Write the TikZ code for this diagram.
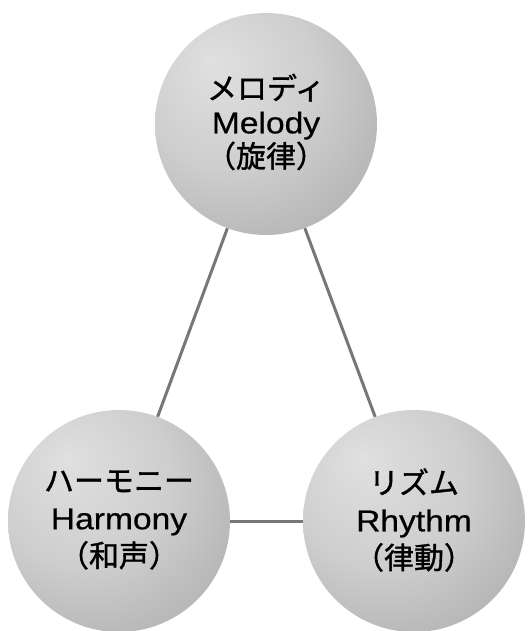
\documentclass[tikz,border=0pt]{standalone}
\usepackage{fontspec}
\setmainfont[FakeStretch=1.12,FakeBold=0.6]{Liberation Sans}
\newfontfamily\jp[FakeBold=1.2]{Noto Sans CJK JP}
\definecolor{sA}{HTML}{E0E0E0}
\definecolor{sB}{HTML}{CECECE}
\definecolor{sC}{HTML}{AEAEAE}
\definecolor{sD}{HTML}{919191}
\definecolor{sE}{HTML}{727272}
\definecolor{linkgray}{HTML}{777777}
\pgfdeclareradialshading{sphereshade}{\pgfpoint{-12bp}{14bp}}{color(0bp)=(sA); color(20bp)=(sB); color(40bp)=(sC); color(55bp)=(sD); color(70bp)=(sE)}
\newlength{\jpskip}
\tikzset{
  sphere/.style={circle, minimum size=222pt, inner sep=0pt, shading=sphereshade},
  label text/.style={align=center, font=\setlength{\jpskip}{#1pt}\fontsize{30}{#1}\selectfont},
  link/.style={draw=linkgray, line width=3pt},
}
\newcommand{\jpl}[1]{{\jp\fontsize{30}{\jpskip}\selectfont #1}}
\begin{document}
\begin{tikzpicture}[x=1pt, y=-1pt]
\useasboundingbox (0,0) rectangle (528,631);
\node[sphere] (mel) at (266,124) {};
\node[sphere] (har) at (119,521) {};
\node[sphere] (rhy) at (414,521) {};
\draw[link] (mel) -- (har);
\draw[link] (mel) -- (rhy);
\draw[link] (har) -- (rhy);
\node[label text=34] (melt) at ([yshift=2pt]mel.center) {\jpl{メロディ}\\Melody\\\jpl{（旋律）}};
\node[label text=37.5] (hart) at ([yshift=1pt]har.center) {\jpl{ハーモニー}\\Harmony\\\jpl{（和声）}};
\node[label text=37.5] (rhyt) at ([yshift=1pt]rhy.center) {\jpl{リズム}\\Rhythm\\\jpl{（律動）}};
\end{tikzpicture}
\end{document}
